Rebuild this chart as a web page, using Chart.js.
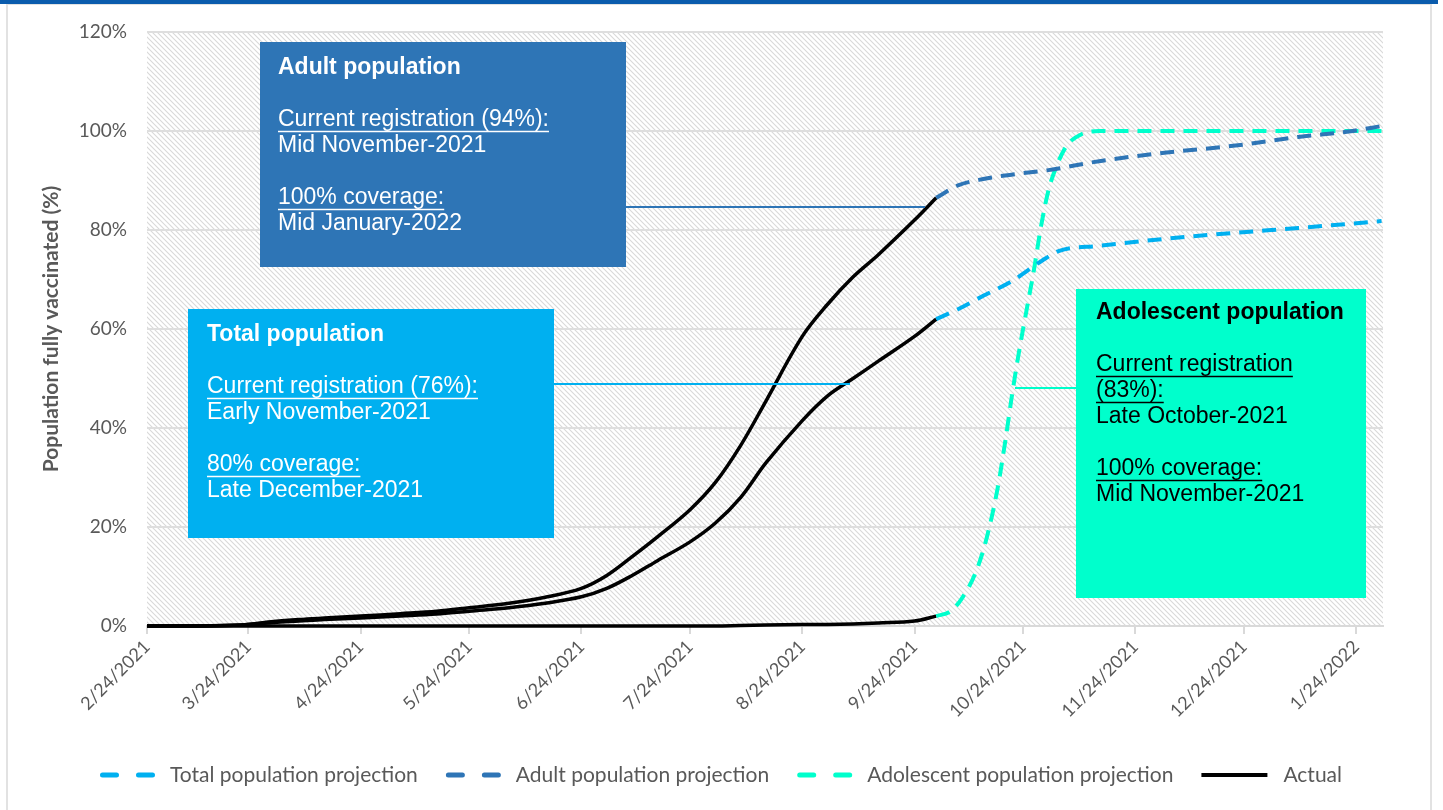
<!DOCTYPE html>
<html lang="en">
<head>
<meta charset="UTF-8">
<title>Population fully vaccinated</title>
<script src="https://cdn.jsdelivr.net/npm/chart.js"></script>
<style>
  html, body { margin: 0; padding: 0; background: #fff; }
  #wrap { position: relative; width: 1443px; height: 810px; overflow: hidden; }
  #topbar { position: absolute; left: 0; top: 0; width: 1438px; height: 4px; background: #0b5cad; }
  #frame { position: absolute; left: 6px; top: 3px; width: 1422px; height: 830px; border: 2px solid #e2e2e2; pointer-events: none; }
  #chart { position: absolute; left: 0; top: 0; }
</style>
</head>
<body>
<div id="wrap">
  <canvas id="chart" width="1443" height="810"></canvas>
  <div id="frame"></div>
  <div id="topbar"></div>
</div>

<script>
// x axis tick labels (monthly, on the 24th)
const tickLabels = ['2/24/2021', '3/24/2021', '4/24/2021', '5/24/2021', '6/24/2021', '7/24/2021',
  '8/24/2021', '9/24/2021', '10/24/2021', '11/24/2021', '12/24/2021', '1/24/2022'];
const xEnd = '1/31/2022';

// actual coverage (%), weekly readings
const actualDates = ['2/24/2021', '3/10/2021', '3/22/2021', '3/31/2021', '4/7/2021', '4/14/2021', '4/24/2021',
  '5/5/2021', '5/15/2021', '5/24/2021', '6/4/2021', '6/14/2021', '6/24/2021', '7/1/2021', '7/8/2021',
  '7/15/2021', '7/24/2021', '7/31/2021', '8/7/2021', '8/14/2021', '8/24/2021', '8/31/2021', '9/7/2021',
  '9/14/2021', '9/24/2021', '9/30/2021'];
const actualTotal = [0, 0, 0.2, 0.7, 1.0, 1.3, 1.6, 2.0, 2.4, 3.0, 3.7, 4.6, 5.9, 7.6, 10.2, 13.2, 17,
  20.8, 26, 33, 41.5, 46.5, 50, 53.5, 58.5, 62];
const actualAdult = [0, 0, 0.2, 0.9, 1.3, 1.6, 2.0, 2.5, 3.0, 3.7, 4.6, 5.8, 7.6, 10.2, 14, 18, 23.5,
  29, 36.5, 45.5, 58.5, 65, 70.5, 75, 82, 86.5];
const actualAdolescent = [0, 0, 0, 0, 0, 0, 0, 0, 0, 0, 0, 0, 0, 0, 0, 0, 0, 0, 0.1, 0.2, 0.3, 0.3, 0.4,
  0.6, 1.0, 2.0];

// projections (%)
const totalProjDates = ['9/30/2021', '10/6/2021', '10/13/2021', '10/21/2021', '10/29/2021', '11/3/2021',
  '11/14/2021', '12/2/2021', '12/21/2021', '1/8/2022', '1/31/2022'];
const totalProj = [62, 64, 66.7, 69.7, 73.7, 75.8, 76.8, 78.2, 79.4, 80.4, 81.8];

const adultProjDates = ['9/30/2021', '10/6/2021', '10/13/2021', '10/22/2021', '10/31/2021', '11/14/2021',
  '12/2/2021', '12/21/2021', '1/8/2022', '1/22/2022', '1/31/2022'];
const adultProj = [86.5, 89, 90.3, 91.3, 92.1, 93.9, 95.6, 97, 98.8, 99.9, 101];

const adolProjDates = ['9/30/2021', '10/4/2021', '10/7/2021', '10/11/2021', '10/14/2021', '10/17/2021',
  '10/19/2021', '10/21/2021', '10/23/2021', '10/25/2021', '10/27/2021', '10/29/2021', '10/31/2021',
  '11/2/2021', '11/5/2021', '11/9/2021', '11/14/2021', '1/31/2022'];
const adolProj = [2, 3, 5.5, 11, 18, 28, 37, 47, 56, 64, 72, 81, 88, 92.5, 97, 99.3, 100, 100];

const startDay = Date.UTC(2021, 1, 24);
function dayOf(s) {
  const [m, d, y] = s.split('/').map(Number);
  return (Date.UTC(y, m - 1, d) - startDay) / 864e5;
}
function pts(dates, vals) {
  return dates.map((s, i) => ({ x: dayOf(s), y: vals[i] }));
}

const grey = '#595959';

// diagonal hatch behind the plot
function hatchPattern(ctx) {
  const c = document.createElement('canvas');
  c.width = c.height = 5;
  const p = c.getContext('2d');
  p.strokeStyle = '#d9d9d9';
  p.lineWidth = 1.1;
  p.beginPath();
  p.moveTo(-1, -1); p.lineTo(6, 6);
  p.moveTo(-1, 4); p.lineTo(1, 6);
  p.moveTo(4, -1); p.lineTo(6, 1);
  p.stroke();
  return ctx.createPattern(c, 'repeat');
}

const hatchBg = {
  id: 'hatchBg',
  beforeDraw(chart) {
    const { ctx, chartArea: a } = chart;
    ctx.save();
    ctx.fillStyle = hatchPattern(ctx);
    ctx.fillRect(a.left, a.top, a.right - a.left, a.bottom - a.top);
    ctx.restore();
  }
};

// text boxes with leader lines
const callouts = [
  { x: 260, y: 42, w: 366, h: 225, fill: '#2e75b6', color: '#fff', first: 26, pad: 18,
    lead: { x1: 626, x2: 925, y: 207, color: '#2e75b6' },
    rows: [['Adult population', 'b'], null, ['Current registration (94%):', 'u'], ['Mid November-2021'], null,
      ['100% coverage:', 'u'], ['Mid January-2022']] },
  { x: 188, y: 309, w: 366, h: 229, fill: '#00b0f0', color: '#fff', first: 26, pad: 19,
    lead: { x1: 554, x2: 850, y: 384, color: '#00b0f0' },
    rows: [['Total population', 'b'], null, ['Current registration (76%):', 'u'], ['Early November-2021'], null,
      ['80% coverage:', 'u'], ['Late December-2021']] },
  { x: 1076, y: 289, w: 290, h: 309, fill: '#00ffcc', color: '#000', first: 24, pad: 20,
    lead: { x1: 1015, x2: 1076, y: 388, color: '#00ffcc' },
    rows: [['Adolescent population', 'b'], null, ['Current registration', 'u'], ['(83%):', 'u'],
      ['Late October-2021'], null, ['100% coverage:', 'u'], ['Mid November-2021']] }
];

const calloutPlugin = {
  id: 'callouts',
  afterDatasetsDraw(chart) {
    const ctx = chart.ctx;
    ctx.save();
    callouts.forEach(c => {
      ctx.strokeStyle = c.lead.color;
      ctx.lineWidth = 2;
      ctx.beginPath();
      ctx.moveTo(c.lead.x1, c.lead.y);
      ctx.lineTo(c.lead.x2, c.lead.y);
      ctx.stroke();

      ctx.fillStyle = c.fill;
      ctx.fillRect(c.x, c.y, c.w, c.h);

      ctx.fillStyle = c.color;
      ctx.strokeStyle = c.color;
      ctx.textBaseline = 'middle';
      ctx.textAlign = 'left';
      c.rows.forEach((r, i) => {
        if (!r) return;
        const ty = c.y + c.first + i * 26;
        const tx = c.x + c.pad;
        ctx.font = (r[1] === 'b' ? 'bold ' : '') + '23px "Liberation Sans", Arial, sans-serif';
        ctx.fillText(r[0], tx, ty);
        if (r[1] === 'u') {
          const w = ctx.measureText(r[0]).width;
          ctx.lineWidth = 1.4;
          ctx.beginPath();
          ctx.moveTo(tx, ty + 11.5);
          ctx.lineTo(tx + w, ty + 11.5);
          ctx.stroke();
        }
      });
    });
    ctx.restore();
  }
};

// legend row along the bottom, spread between two edges
const bottomLegend = {
  id: 'bottomLegend',
  afterDraw(chart) {
    const ctx = chart.ctx;
    const items = chart.data.datasets.filter(ds => ds.inLegend !== false);
    const left = 100, right = 1342, textGap = 16, y = 775;
    ctx.save();
    ctx.font = '21px Lato';
    const sample = ds => (ds.borderDash ? 54 : 66);
    const widths = items.map(ds => sample(ds) + textGap + ctx.measureText(ds.label).width);
    const gap = (right - left - widths.reduce((a, b) => a + b, 0)) / (items.length - 1);
    let x = left;
    items.forEach((ds, i) => {
      const len = sample(ds);
      ctx.strokeStyle = ds.borderColor;
      ctx.lineWidth = ds.borderDash ? 5 : 4;
      ctx.lineCap = ds.borderDash ? 'round' : 'butt';
      ctx.setLineDash(ds.borderDash ? [14, 22] : []);
      ctx.beginPath();
      ctx.moveTo(x + (ds.borderDash ? 2.5 : 0), y);
      ctx.lineTo(x + len, y);
      ctx.stroke();
      ctx.setLineDash([]);
      ctx.fillStyle = grey;
      ctx.textBaseline = 'middle';
      ctx.fillText(ds.label, x + len + textGap, y);
      x += widths[i] + gap;
    });
    ctx.restore();
  }
};

const dashed = { borderWidth: 4, borderDash: [14, 9], pointRadius: 0, fill: false, cubicInterpolationMode: 'monotone' };
const solid = { borderColor: '#000', borderWidth: 3.5, pointRadius: 0, fill: false, tension: 0.35, clip: false };

new Chart(document.getElementById('chart'), {
  type: 'line',
  data: {
    datasets: [
      { label: 'Total population projection', data: pts(totalProjDates, totalProj), borderColor: '#00b0f0', ...dashed },
      { label: 'Adult population projection', data: pts(adultProjDates, adultProj), borderColor: '#2e75b6', ...dashed },
      { label: 'Adolescent population projection', data: pts(adolProjDates, adolProj), borderColor: '#00ffcc', ...dashed },
      { label: 'Actual', data: pts(actualDates, actualTotal), ...solid },
      { label: 'Actual', data: pts(actualDates, actualAdult), inLegend: false, ...solid },
      { label: 'Actual', data: pts(actualDates, actualAdolescent), inLegend: false, ...solid }
    ]
  },
  options: {
    responsive: false,
    animation: false,
    layout: { padding: { left: 30, right: 60, top: 32, bottom: 0 } },
    plugins: {
      legend: { display: false },
      tooltip: { enabled: false }
    },
    scales: {
      x: {
        type: 'linear',
        min: 0,
        max: dayOf(xEnd) + 0.4,
        afterBuildTicks(scale) {
          scale.ticks = tickLabels.map(s => ({ value: dayOf(s) }));
        },
        afterFit(scale) { scale.height = 184; },
        ticks: {
          autoSkip: false,
          minRotation: 45,
          maxRotation: 45,
          padding: 2,
          color: grey,
          font: { family: 'Lato', size: 18 },
          callback: (v, i) => tickLabels[i]
        },
        grid: { drawOnChartArea: false, color: '#d9d9d9', lineWidth: 2, tickLength: 8 },
        border: { color: '#d9d9d9', width: 2 }
      },
      y: {
        min: 0,
        max: 120,
        afterFit(scale) { scale.width = 117; },
        ticks: {
          stepSize: 20,
          padding: 20,
          color: grey,
          font: { family: 'Lato', size: 19 },
          callback: v => v + '%'
        },
        grid: { color: '#dedede', lineWidth: 2, drawTicks: false },
        border: { display: false },
        title: {
          display: true,
          text: 'Population fully vaccinated (%)',
          color: grey,
          font: { family: 'Lato', size: 21, weight: 'bold' },
          padding: { top: 9, bottom: 0 }
        }
      }
    }
  },
  plugins: [hatchBg, calloutPlugin, bottomLegend]
});
</script>
</body>
</html>
